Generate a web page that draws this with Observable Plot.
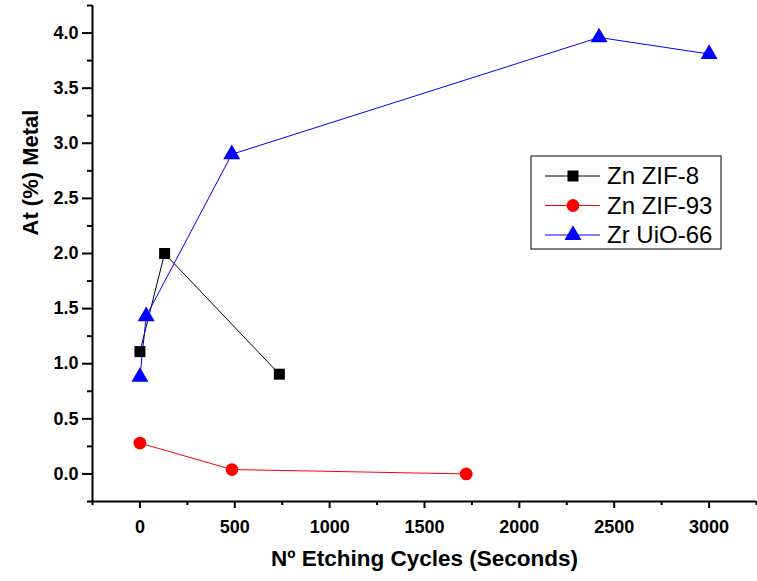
<!DOCTYPE html>
<html><head><meta charset="utf-8">
<script src="https://cdn.jsdelivr.net/npm/d3@7"></script>
<script src="https://cdn.jsdelivr.net/npm/@observablehq/plot@0.6"></script>
<style>body{margin:0;background:#fff}#chart svg{display:block}
#chart g[aria-label$="axis tick"]{stroke-width:2px}
#chart g[aria-label$="axis tick"] path{stroke-width:2px}
#chart g[aria-label$="tick label"]{font-size:18px !important;font-weight:bold}
#chart g[aria-label$="tick label"] text{font-size:18px !important;font-weight:bold}</style>
</head><body><div id="chart"></div>
<script>
const seriesNames = ["Zn ZIF-8", "Zn ZIF-93", "Zr UiO-66"];
const seriesColors = ["#000000", "#ff0000", "#0000ff"];
const seriesSymbols = ["square", "circle", "triangle"];
const zif8X = [0, 130, 735];
const zif8Y = [1.11, 2.0, 0.905];
const zif93X = [0, 485, 1720];
const zif93Y = [0.28, 0.04, 0.0];
const uioX = [0, 33, 484, 2420, 3000];
const uioY = [0.88, 1.43, 2.90, 3.96, 3.81];
const xDomain = [-250, 3250];
const yDomain = [-0.25, 4.25];
const xTicks = [0, 500, 1000, 1500, 2000, 2500, 3000];
const xMinor = [-250, 250, 750, 1250, 1750, 2250, 2750, 3250];
const yTicks = [0, 0.5, 1.0, 1.5, 2.0, 2.5, 3.0, 3.5, 4.0];
const yMinor = [-0.25, 0.25, 0.75, 1.25, 1.75, 2.25, 2.75, 3.25, 3.75, 4.25];
const xLabel = "Nº Etching Cycles (Seconds)";
const yLabel = "At (%) Metal";

const mk = (xs, ys) => xs.map((x, i) => ({x, y: ys[i]}));
const series = [mk(zif8X, zif8Y), mk(zif93X, zif93Y), mk(uioX, uioY)];
const rs = [6.2, 6.4, 6.3];

const marks = [];
series.forEach((d, i) => {
  marks.push(Plot.line(d, {x: "x", y: "y", stroke: seriesColors[i], strokeWidth: 1}));
});
series.forEach((d, i) => {
  marks.push(Plot.dot(d, {x: "x", y: "y", symbol: seriesSymbols[i], r: rs[i], fill: seriesColors[i], stroke: "none"}));
});

const chart = Plot.plot({
  width: 757, height: 581,
  marginLeft: 92, marginRight: 1, marginTop: 5, marginBottom: 80,
  style: {fontFamily: "'Liberation Sans', Arial, sans-serif", color: "black", background: "white", overflow: "visible"},
  x: {domain: xDomain},
  y: {domain: yDomain},
  marks: [
    Plot.axisX({ticks: xTicks, tickSize: 7, tickPadding: 12, tickFormat: d3.format("d"), fontSize: 18, fontWeight: "bold", label: null}),
    Plot.axisX({ticks: xMinor, tickSize: 4, text: null, label: null}),
    Plot.axisY({ticks: yTicks, tickSize: 10, tickPadding: 4, tickFormat: d3.format(".1f"), fontSize: 18, fontWeight: "bold", label: null}),
    Plot.axisY({ticks: yMinor, tickSize: 5, text: null, label: null}),
    Plot.ruleX([xDomain[0]], {stroke: "black", strokeWidth: 2}),
    Plot.ruleY([yDomain[0]], {stroke: "black", strokeWidth: 2}),
    ...marks,
    Plot.text([xLabel], {frameAnchor: "bottom", dy: 64, fontSize: 22.5, fontWeight: "bold", text: d => d}),
    Plot.text([yLabel], {frameAnchor: "left", dx: -62, dy: -18, rotate: -90, fontSize: 22, fontWeight: "bold", text: d => d})
  ]
});
document.getElementById("chart").append(chart);

// legend
const svg = d3.select(chart);
const g = svg.append("g").attr("font-family", "'Liberation Sans', Arial, sans-serif").attr("text-anchor", "start");
g.append("rect").attr("x", 531).attr("y", 156).attr("width", 190).attr("height", 93)
  .attr("fill", "white").attr("stroke", "black").attr("stroke-width", 1);
seriesNames.forEach((name, i) => {
  const cy = 176 + i * 29.5;
  g.append("line").attr("x1", 545).attr("x2", 600).attr("y1", cy).attr("y2", cy)
    .attr("stroke", seriesColors[i]).attr("stroke-width", 1);
  const sym = {square: d3.symbolSquare, circle: d3.symbolCircle, triangle: d3.symbolTriangle}[seriesSymbols[i]];
  g.append("path").attr("d", d3.symbol(sym, Math.PI * rs[i] * rs[i])())
    .attr("transform", `translate(573,${cy})`).attr("fill", seriesColors[i]);
  g.append("text").attr("x", 607).attr("y", cy).attr("dy", "0.35em")
    .attr("font-size", 24).attr("fill", "black").text(name);
});
</script></body></html>
